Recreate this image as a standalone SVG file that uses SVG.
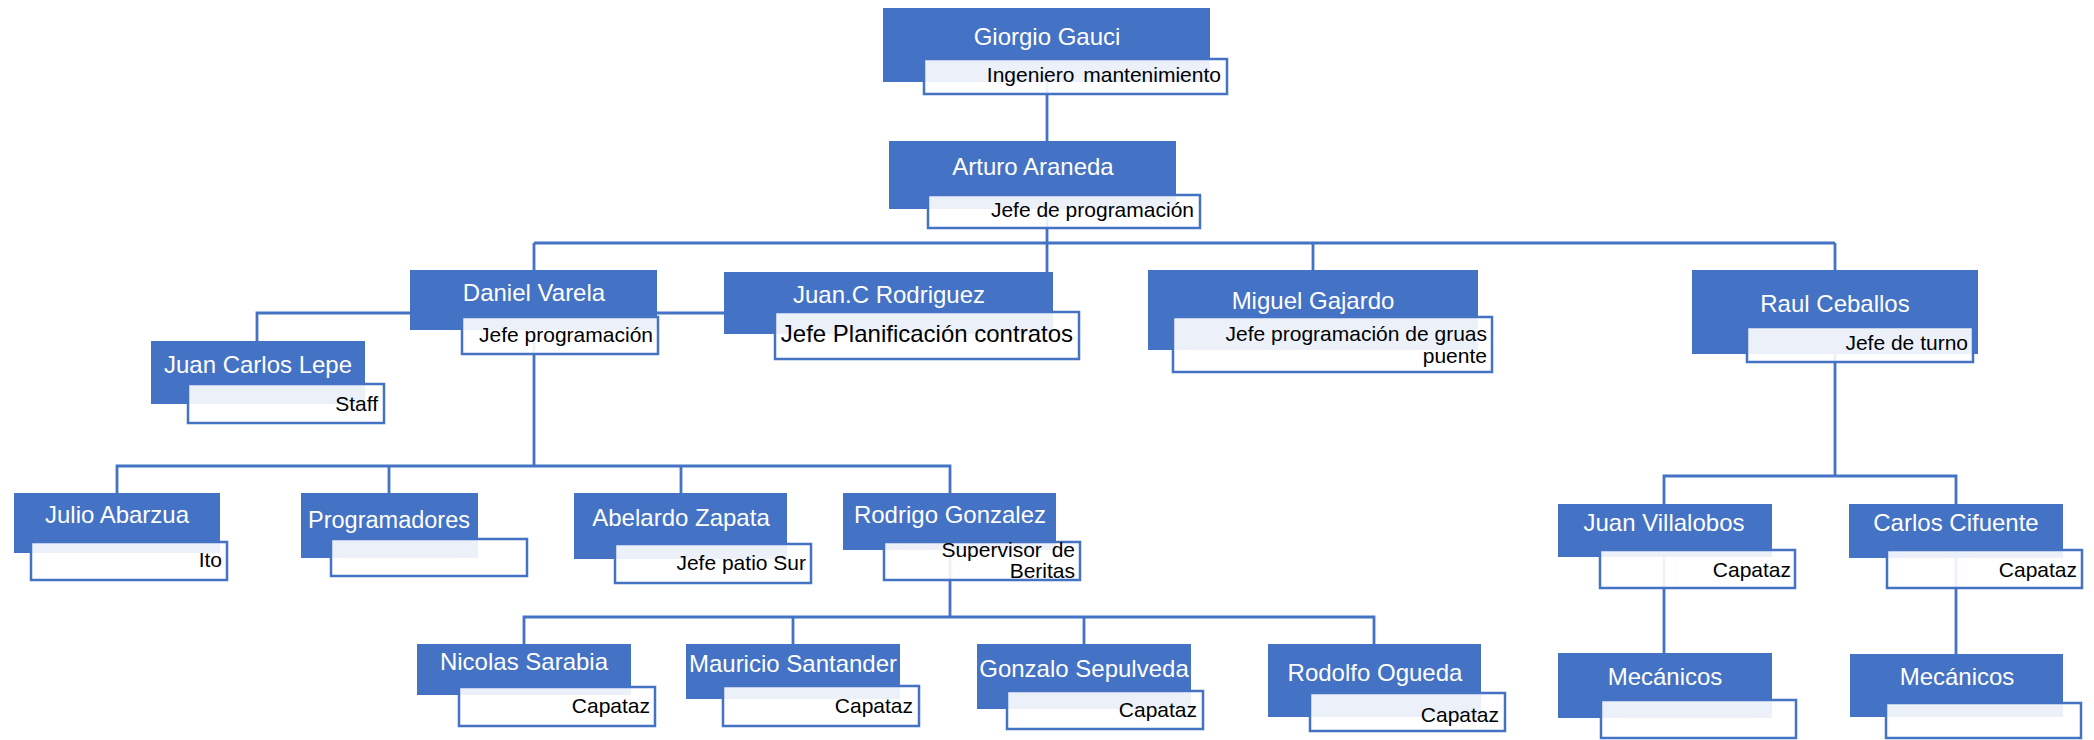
<svg xmlns="http://www.w3.org/2000/svg" width="2094" height="740" viewBox="0 0 2094 740">
  <style>
    .box { fill: #4472C4; }
    .tag { fill: #FFFFFF; fill-opacity: 0.9; stroke: #4472C4; stroke-width: 2.5; }
    .name { font-family: "Liberation Sans", Arial, sans-serif; font-size: 24px; fill: #FFFFFF; text-anchor: middle; }
    .role { font-family: "Liberation Sans", Arial, sans-serif; font-size: 21px; fill: #000000; text-anchor: end; }
    .link { fill: none; stroke: #4472C4; stroke-width: 2.8; stroke-linejoin: miter; stroke-linecap: butt; }
  </style>
  <rect width="2094" height="740" fill="#FFFFFF"/>

  <!-- reporting lines -->
  <g id="connectors" class="link">
    <path d="M1047,82 V141"/>
    <path d="M1047,209 V272"/>
    <path d="M534,243 H1835"/>
    <path d="M534,243 V270"/>
    <path d="M1313,243 V270"/>
    <path d="M1835,243 V270"/>
    <path d="M410,313 H257 V341"/>
    <path d="M657,313 H724"/>
    <path d="M534,330 V466"/>
    <path d="M117,493 V466 H950 V493"/>
    <path d="M389,466 V493"/>
    <path d="M681,466 V493"/>
    <path d="M950,550 V617"/>
    <path d="M524,644 V617 H1374 V644"/>
    <path d="M793,617 V644"/>
    <path d="M1084,617 V644"/>
    <path d="M1835,354 V476"/>
    <path d="M1664,504 V476 H1956 V504"/>
    <path d="M1664,557 V653"/>
    <path d="M1956,558 V654"/>
  </g>

  <g id="giorgio-gauci">
    <rect class="box" x="883" y="8" width="327" height="74"/>
    <rect class="tag" x="924" y="59" width="303" height="35"/>
    <text class="name" x="1047" y="45">Giorgio Gauci</text>
    <text class="role" x="1221" y="82" word-spacing="3">Ingeniero mantenimiento</text>
  </g>

  <g id="arturo-araneda">
    <rect class="box" x="889" y="141" width="287" height="68"/>
    <rect class="tag" x="928" y="195" width="272" height="33"/>
    <text class="name" x="1033" y="175">Arturo Araneda</text>
    <text class="role" x="1194" y="217">Jefe de programación</text>
  </g>

  <g id="daniel-varela">
    <rect class="box" x="410" y="270" width="247" height="60"/>
    <rect class="tag" x="462" y="317" width="196" height="37"/>
    <text class="name" x="534" y="301">Daniel Varela</text>
    <text class="role" x="653" y="342">Jefe programación</text>
  </g>

  <g id="juan-carlos-lepe">
    <rect class="box" x="151" y="341" width="214" height="63"/>
    <rect class="tag" x="188" y="384" width="196" height="39"/>
    <text class="name" x="258" y="373">Juan Carlos Lepe</text>
    <text class="role" x="378" y="411">Staff</text>
  </g>

  <g id="juan-c-rodriguez">
    <rect class="box" x="724" y="272" width="329" height="62"/>
    <rect class="tag" x="775" y="312" width="304" height="47"/>
    <text class="name" x="889" y="303">Juan.C Rodriguez</text>
    <text class="role" x="1073" y="342" style="font-size:24px">Jefe Planificación contratos</text>
  </g>

  <g id="miguel-gajardo">
    <rect class="box" x="1148" y="270" width="330" height="80"/>
    <rect class="tag" x="1173" y="317" width="319" height="55"/>
    <text class="name" x="1313" y="309">Miguel Gajardo</text>
    <text class="role" x="1487" y="341">Jefe programación de gruas</text>
    <text class="role" x="1487" y="363">puente</text>
  </g>

  <g id="raul-ceballos">
    <rect class="box" x="1692" y="270" width="286" height="84"/>
    <rect class="tag" x="1747" y="327" width="226" height="35"/>
    <text class="name" x="1835" y="312">Raul Ceballos</text>
    <text class="role" x="1968" y="350">Jefe de turno</text>
  </g>

  <g id="julio-abarzua">
    <rect class="box" x="14" y="493" width="206" height="60"/>
    <rect class="tag" x="31" y="542" width="196" height="38"/>
    <text class="name" x="117" y="523">Julio Abarzua</text>
    <text class="role" x="222" y="567">Ito</text>
  </g>

  <g id="programadores">
    <rect class="box" x="301" y="493" width="177" height="65"/>
    <rect class="tag" x="331" y="539" width="196" height="37"/>
    <text class="name" x="389" y="528" style="font-size:23.5px">Programadores</text>
  </g>

  <g id="abelardo-zapata">
    <rect class="box" x="574" y="493" width="213" height="66"/>
    <rect class="tag" x="615" y="544" width="196" height="39"/>
    <text class="name" x="681" y="526">Abelardo Zapata</text>
    <text class="role" x="806" y="570">Jefe patio Sur</text>
  </g>

  <g id="rodrigo-gonzalez">
    <rect class="box" x="843" y="493" width="213" height="57"/>
    <rect class="tag" x="884" y="542" width="196" height="38"/>
    <text class="name" x="950" y="523">Rodrigo Gonzalez</text>
    <text class="role" x="1075" y="557" word-spacing="4">Supervisor de</text>
    <text class="role" x="1075" y="578">Beritas</text>
  </g>

  <g id="nicolas-sarabia">
    <rect class="box" x="417" y="644" width="214" height="51"/>
    <rect class="tag" x="459" y="687" width="196" height="39"/>
    <text class="name" x="524" y="670">Nicolas Sarabia</text>
    <text class="role" x="650" y="713">Capataz</text>
  </g>

  <g id="mauricio-santander">
    <rect class="box" x="686" y="644" width="214" height="55"/>
    <rect class="tag" x="723" y="686" width="196" height="40"/>
    <text class="name" x="793" y="672">Mauricio Santander</text>
    <text class="role" x="913" y="713">Capataz</text>
  </g>

  <g id="gonzalo-sepulveda">
    <rect class="box" x="977" y="644" width="214" height="65"/>
    <rect class="tag" x="1007" y="691" width="196" height="38"/>
    <text class="name" x="1084" y="677">Gonzalo Sepulveda</text>
    <text class="role" x="1197" y="717">Capataz</text>
  </g>

  <g id="rodolfo-ogueda">
    <rect class="box" x="1268" y="644" width="213" height="73"/>
    <rect class="tag" x="1310" y="693" width="195" height="38"/>
    <text class="name" x="1375" y="681">Rodolfo Ogueda</text>
    <text class="role" x="1499" y="722">Capataz</text>
  </g>

  <g id="juan-villalobos">
    <rect class="box" x="1558" y="504" width="214" height="53"/>
    <rect class="tag" x="1600" y="550" width="195" height="38"/>
    <text class="name" x="1664" y="531">Juan Villalobos</text>
    <text class="role" x="1791" y="577">Capataz</text>
  </g>

  <g id="carlos-cifuente">
    <rect class="box" x="1849" y="504" width="214" height="54"/>
    <rect class="tag" x="1887" y="550" width="195" height="38"/>
    <text class="name" x="1956" y="531">Carlos Cifuente</text>
    <text class="role" x="2077" y="577">Capataz</text>
  </g>

  <g id="mecanicos-1">
    <rect class="box" x="1558" y="653" width="214" height="65"/>
    <rect class="tag" x="1601" y="700" width="195" height="38"/>
    <text class="name" x="1665" y="685">Mecánicos</text>
  </g>

  <g id="mecanicos-2">
    <rect class="box" x="1850" y="654" width="213" height="63"/>
    <rect class="tag" x="1886" y="703" width="195" height="35"/>
    <text class="name" x="1957" y="685">Mecánicos</text>
  </g>
</svg>
